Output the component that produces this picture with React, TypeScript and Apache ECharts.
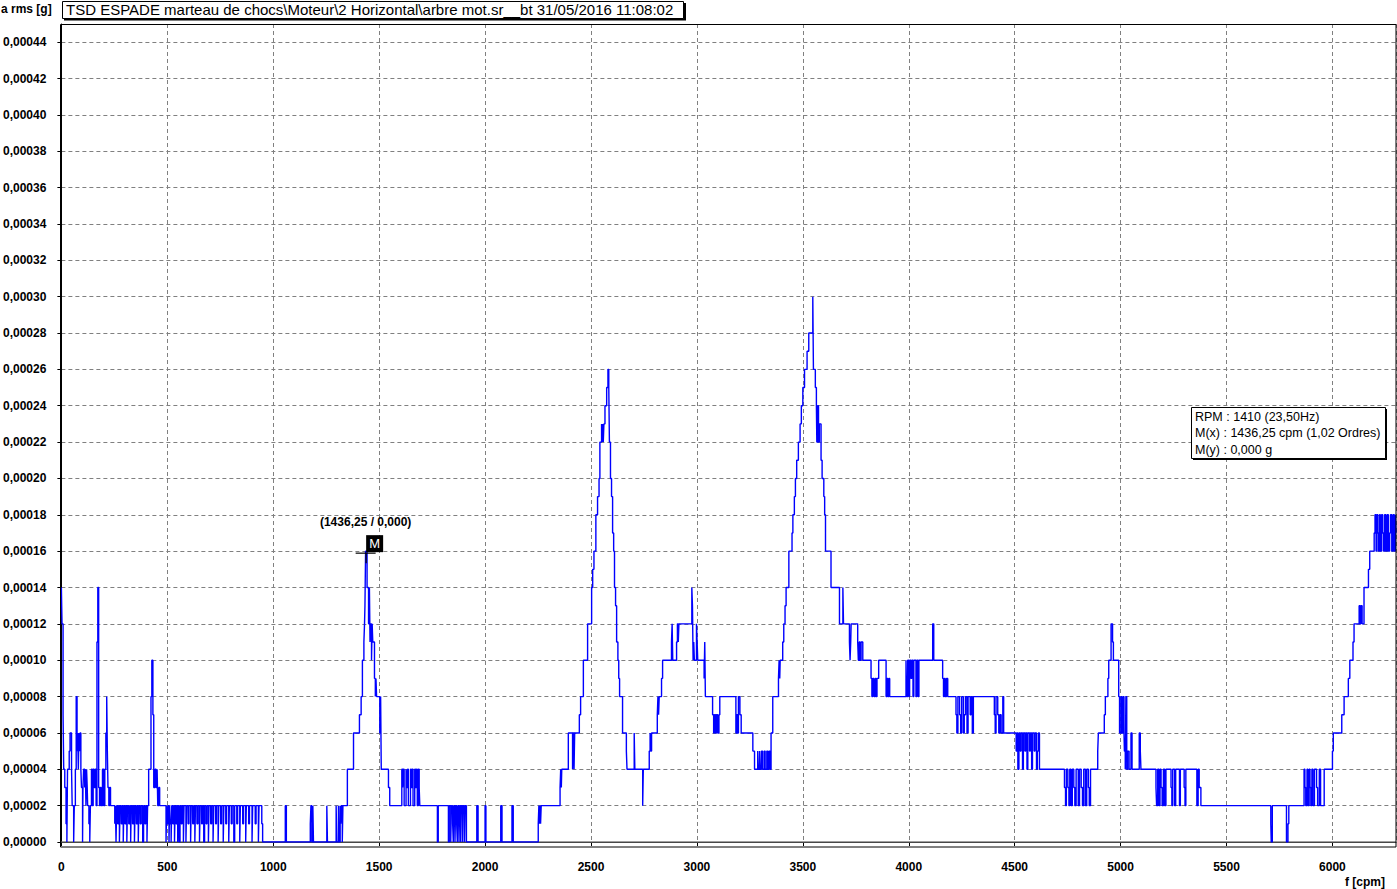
import React, { useEffect, useRef } from "react";
import * as echarts from "echarts";

const FONT = "'Liberation Sans', Arial, sans-serif";
const UNIT = 1e-5; // amplitudes in the segments are in units of 1e-5 g

const X_MIN = 0;
const X_MAX = 6300;
const X_STEP = 500;
const Y_MIN = 0;
const Y_MAX = 0.00045;
const Y_STEP = 0.00002;

const TITLE = "TSD ESPADE marteau de chocs\\Moteur\\2 Horizontal\\arbre mot.sr__bt 31/05/2016 11:08:02";
const Y_NAME = "a rms [g]";
const X_NAME = "f [cpm]";
const INFO_LINES = ["RPM : 1410 (23,50Hz)", "M(x) : 1436,25 cpm (1,02 Ordres)", "M(y) : 0,000 g"];
const MARKER = { f: 1436.25, a: 0.00016, label: "(1436,25 / 0,000)", tag: "M" };

// [frequency cpm, amplitude (1e-5 g)] change points, step line
const SEG_A = [
  [0, 14], [3, 12], [8, 7], [11, 4], [16, 3], [22, 1], [26, 0], [29, 4], [37, 5], [41, 6], [48, 4], [51, 2], [58, 0], [61, 2],
  [66, 4], [70, 8], [74, 5], [77, 6], [80, 4], [83, 6], [86, 5], [88, 6], [92, 4], [95, 3], [100, 0], [102, 3], [105, 4],
  [110, 3], [113, 4], [116, 2], [119, 4], [122, 3], [124, 2], [130, 1], [134, 0], [137, 2], [142, 4], [146, 2], [150, 4],
  [155, 3], [160, 4], [164, 2], [168, 11], [172, 14], [176, 3], [180, 2], [184, 3], [188, 2], [194, 4], [200, 2], [205, 4],
  [210, 6], [214, 8], [217, 5], [220, 3], [224, 2], [228, 3], [232, 2],
  [252, 1], [255, 2], [258, 0], [261, 2], [266, 1], [270, 2], [274, 0], [277, 2], [283, 1], [287, 2], [292, 0], [295, 2],
  [300, 1], [304, 2], [309, 0], [312, 2], [318, 1], [322, 2], [327, 0], [330, 2], [336, 1], [340, 2], [345, 0], [348, 2],
  [354, 1], [358, 2], [363, 0], [366, 2], [372, 1], [377, 2], [384, 0], [388, 2], [394, 1], [398, 2], [404, 0], [407, 2],
  [412, 4], [423, 8], [427, 10], [432, 7], [436, 3], [442, 4], [447, 3], [452, 4], [455, 2], [460, 3], [464, 2],
  [494, 0], [497, 2], [500, 1], [504, 2], [508, 0], [511, 2], [514, 1], [518, 0], [521, 2], [526, 1], [530, 2], [534, 0],
  [537, 2], [541, 1], [545, 2], [549, 0], [552, 2], [556, 0], [560, 2], [566, 1], [570, 2], [576, 0], [579, 2], [588, 0],
  [591, 2], [598, 1], [602, 2], [610, 0], [613, 2], [620, 1], [624, 2], [630, 0], [633, 2], [640, 1], [645, 2], [652, 0],
  [655, 2], [662, 1], [666, 2], [672, 0], [676, 2], [683, 1], [687, 2], [694, 0], [697, 2], [705, 1], [709, 2], [716, 0],
  [719, 2], [728, 1], [732, 2], [740, 0], [743, 2], [752, 1], [756, 2], [764, 0], [767, 2], [776, 1], [780, 2], [790, 0],
  [793, 2], [802, 1], [806, 2], [814, 0], [818, 2], [828, 1], [832, 2], [842, 0], [845, 2], [856, 1], [860, 2], [870, 0],
  [873, 2], [884, 1], [888, 2], [900, 0], [903, 2], [915, 1], [919, 2], [930, 0], [933, 2], [946, 1], [950, 0],
  [1057, 2], [1062, 0], [1175, 1], [1178, 2], [1182, 0], [1187, 2], [1190, 0], [1253, 2], [1256, 0],
];

const SEG_B = [
  [1297, 2], [1300, 0], [1308, 2], [1311, 0], [1316, 2], [1319, 1], [1322, 2], [1326, 0], [1329, 2], [1350, 4], [1379, 6],
  [1407, 7], [1415, 8], [1421, 10], [1428, 11], [1431, 12], [1433, 13], [1434, 14], [1436, 16], [1443, 14], [1450, 12],
  [1454, 14], [1457, 11], [1460, 12], [1464, 10], [1467, 12], [1470, 11], [1478, 9], [1482, 8], [1485, 9], [1488, 8],
  [1503, 6], [1507, 8], [1510, 4], [1544, 3], [1550, 2],
  [1607, 4], [1611, 3], [1614, 4], [1618, 2], [1627, 4], [1630, 3], [1634, 4], [1638, 2], [1648, 4], [1652, 3], [1656, 4],
  [1660, 2], [1668, 4], [1672, 3], [1676, 4], [1680, 2], [1685, 4], [1689, 3], [1692, 2],
  [1775, 0], [1779, 2], [1827, 0], [1831, 2], [1838, 0], [1841, 2], [1847, 1], [1850, 0], [1853, 2], [1858, 0], [1861, 2],
  [1866, 1], [1869, 0], [1872, 2], [1877, 0], [1880, 2], [1885, 0], [1888, 2], [1894, 0], [1897, 2], [1903, 0], [1906, 2],
  [1912, 0], [1961, 2], [1967, 0], [2000, 2], [2004, 0], [2074, 2], [2080, 0], [2127, 2], [2133, 0],
];

const SEG_C = [
  [2251, 1], [2254, 2], [2256, 1], [2259, 2], [2262, 1], [2265, 2], [2354, 3], [2357, 4], [2360, 3], [2362, 4], [2393, 6],
  [2413, 4], [2416, 6], [2420, 4], [2423, 6], [2445, 7], [2451, 8], [2464, 10], [2484, 12], [2503, 14], [2508, 15],
  [2514, 16], [2523, 18], [2531, 19], [2538, 20], [2542, 22], [2550, 23], [2553, 22], [2555, 23], [2558, 22], [2561, 23],
  [2566, 24], [2574, 25], [2580, 26], [2584, 25], [2587, 22], [2592, 20], [2597, 19], [2602, 17], [2607, 16], [2611, 14],
  [2616, 13], [2621, 11], [2627, 10], [2631, 9], [2635, 8], [2649, 6], [2667, 5], [2670, 4], [2704, 6], [2707, 4],
  [2744, 2], [2747, 4], [2775, 5], [2779, 6], [2782, 5], [2786, 6], [2813, 7], [2816, 8], [2819, 7], [2822, 8], [2833, 9],
  [2838, 10], [2880, 11], [2883, 12], [2886, 10], [2904, 11], [2908, 12], [2912, 11], [2915, 12], [2976, 14], [2979, 13],
  [2982, 10], [2985, 11], [2988, 10], [2998, 12], [3001, 11], [3004, 10], [3034, 9], [3037, 11], [3040, 8], [3074, 7],
  [3079, 6], [3083, 7], [3088, 6], [3092, 7], [3098, 6], [3104, 7], [3108, 8], [3184, 6], [3188, 7], [3192, 6], [3196, 8],
];

const SEG_D = [
  [3203, 7], [3209, 6], [3264, 5], [3272, 4], [3287, 5], [3290, 4], [3296, 5], [3299, 4], [3305, 5], [3310, 4], [3318, 5],
  [3322, 4], [3330, 5], [3334, 4], [3340, 5], [3345, 4], [3350, 6], [3358, 8], [3385, 9], [3388, 10], [3391, 9], [3393, 10],
  [3405, 11], [3410, 12], [3416, 13], [3421, 14], [3434, 16], [3449, 17], [3453, 18], [3460, 19], [3465, 20], [3471, 21],
  [3479, 22], [3487, 23], [3493, 24], [3500, 25], [3508, 26], [3520, 27], [3528, 28], [3547, 30], [3550, 26], [3559, 25],
  [3564, 24], [3566, 22], [3570, 24], [3574, 22], [3578, 23], [3586, 21], [3591, 20], [3599, 19], [3603, 18], [3607, 16],
  [3633, 14], [3673, 12], [3689, 14], [3692, 12], [3720, 11], [3723, 10], [3726, 11], [3728, 12], [3759, 11], [3762, 10],
  [3766, 11], [3770, 10], [3775, 11], [3783, 10], [3822, 9], [3826, 8], [3830, 9], [3836, 8], [3842, 9], [3846, 8],
  [3850, 9], [3858, 10], [3893, 8], [3897, 9], [3901, 8], [3906, 9], [3910, 8], [3987, 10], [3990, 8], [3995, 10],
  [4000, 8], [4004, 10], [4010, 9], [4014, 10], [4020, 8], [4024, 10], [4034, 8], [4038, 10], [4044, 8], [4048, 10],
  [4113, 12], [4118, 10], [4160, 9], [4164, 8], [4168, 9], [4172, 8], [4178, 9], [4184, 8], [4223, 7], [4227, 6], [4232, 8],
  [4240, 7], [4245, 6], [4250, 8], [4258, 6], [4262, 7], [4268, 8], [4275, 6], [4280, 8], [4290, 7], [4294, 8], [4300, 6],
  [4305, 8], [4404, 7], [4408, 6], [4412, 8], [4420, 7], [4425, 6], [4430, 7], [4436, 6], [4444, 8], [4448, 6],
];

const SEG_E = [
  [4507, 5], [4511, 6], [4515, 4], [4520, 6], [4526, 5], [4530, 6], [4537, 4], [4541, 6], [4548, 5], [4552, 6], [4558, 4],
  [4562, 6], [4570, 5], [4574, 6], [4580, 4], [4584, 6], [4592, 5], [4596, 6], [4603, 4], [4607, 5], [4612, 6], [4617, 4],
  [4735, 3], [4740, 2], [4744, 4], [4751, 3], [4756, 2], [4760, 4], [4766, 2], [4772, 4], [4779, 3], [4784, 2], [4790, 4],
  [4800, 2], [4806, 4], [4814, 3], [4820, 2], [4826, 4], [4834, 2], [4840, 4], [4848, 3], [4852, 2], [4858, 4],
  [4892, 5], [4895, 6], [4923, 7], [4928, 8], [4940, 9], [4944, 10], [4955, 12], [4962, 11], [4966, 10], [4991, 8],
  [4995, 6], [5002, 8], [5006, 6], [5012, 8], [5016, 6], [5018, 5], [5022, 4], [5025, 8], [5029, 4], [5033, 5], [5040, 4],
  [5049, 6], [5054, 4], [5088, 6], [5093, 5], [5096, 4],
  [5167, 3], [5170, 2], [5175, 4], [5181, 2], [5186, 4], [5191, 3], [5196, 2], [5202, 4], [5208, 2], [5214, 4], [5238, 3],
  [5242, 2], [5246, 4], [5255, 2], [5260, 4], [5278, 2], [5282, 4], [5300, 3], [5304, 2], [5308, 4], [5360, 2], [5366, 4],
  [5371, 3], [5379, 2],
  [5709, 1], [5711, 0], [5716, 2], [5783, 0], [5790, 1], [5794, 2],
  [5866, 4], [5870, 3], [5874, 2], [5880, 4], [5884, 2], [5890, 4], [5894, 3], [5898, 2], [5903, 4], [5908, 2], [5915, 4],
  [5925, 3], [5930, 2], [5938, 4], [5944, 2], [5961, 4],
  [6000, 5], [6004, 6], [6044, 7], [6055, 8], [6075, 9], [6082, 10], [6097, 11], [6102, 12], [6126, 13], [6130, 12],
  [6134, 13], [6140, 12], [6149, 14], [6170, 15], [6176, 16], [6197, 17], [6201, 18], [6206, 16], [6210, 18], [6214, 17],
  [6218, 16], [6222, 18], [6226, 16], [6232, 18], [6237, 17], [6241, 16], [6246, 18], [6252, 16], [6258, 18], [6264, 16],
  [6270, 17], [6274, 18], [6280, 16], [6286, 18], [6292, 16], [6297, 18], [6300, 17],
];

export default function App() {
  const ref = useRef<HTMLDivElement>(null);

  useEffect(() => {
    const el = ref.current;
    if (!el) return;
    const chart = echarts.init(el, null, { renderer: "svg" });
    const data = [...SEG_A, ...SEG_B, ...SEG_C, ...SEG_D, ...SEG_E].map(([f, a]) => [f, a * UNIT]);
    const axisFont = { fontFamily: FONT, fontWeight: "bold" as const, fontSize: 12, color: "#000" };
    const gridLine = { show: true, lineStyle: { color: "#808080", type: [4, 3], width: 1 } };

    chart.setOption({
      animation: false,
      backgroundColor: "#ffffff",
      grid: { left: 61, right: 1, top: 24, bottom: 47 },
      xAxis: {
        type: "value",
        min: X_MIN,
        max: X_MAX,
        interval: X_STEP,
        offset: 12,
        axisLine: { show: true, lineStyle: { color: "#000", width: 1 } },
        axisTick: { show: true, length: 4, lineStyle: { color: "#000" } },
        axisLabel: { ...axisFont, margin: 7, showMaxLabel: false, formatter: (v: number) => String(v) },
        splitLine: gridLine,
      },
      yAxis: {
        type: "value",
        min: Y_MIN,
        max: Y_MAX,
        interval: Y_STEP,
        offset: 9,
        axisLine: { show: true, lineStyle: { color: "#000", width: 1 } },
        axisTick: { show: true, length: 4, lineStyle: { color: "#000" } },
        axisLabel: {
          ...axisFont,
          margin: 6,
          showMaxLabel: false,
          formatter: (v: number) => v.toFixed(5).replace(".", ","),
        },
        splitLine: gridLine,
      },
      series: [
        {
          type: "line",
          data: [[X_MIN, 0], [X_MAX, 0]],
          showSymbol: false,
          silent: true,
          lineStyle: { color: "#808080", width: 1.5 },
        },
        {
          type: "line",
          data,
          step: "end",
          showSymbol: false,
          silent: true,
          lineStyle: { color: "#0000ff", width: 1.4 },
        },
      ],
    });

    const [mx, my] = chart.convertToPixel({ gridIndex: 0 }, [MARKER.f, MARKER.a]) as number[];
    const infoX = 1191;
    const infoY = 407;
    const infoW = 194;
    const infoH = 51;

    chart.setOption({
      graphic: [
        {
          type: "rect",
          silent: true,
          z: 50,
          shape: { x: 60.5, y: 24.5, width: 1335.5, height: 822.5 },
          style: { fill: "none", stroke: "#000", lineWidth: 1 },
        },
        { type: "text", silent: true, left: 1, top: 3, style: { text: Y_NAME, font: `bold 12px ${FONT}`, fill: "#000" } },
        {
          type: "text",
          silent: true,
          x: 1385,
          y: 882,
          style: { text: X_NAME, font: `bold 12px ${FONT}`, fill: "#000", align: "right", verticalAlign: "middle" },
        },
        // title box
        { type: "rect", silent: true, z: 60, shape: { x: 64, y: 3, width: 622, height: 17.5 }, style: { fill: "#000" } },
        {
          type: "rect",
          silent: true,
          z: 61,
          shape: { x: 62.5, y: 1.5, width: 621, height: 17 },
          style: { fill: "#fff", stroke: "#000", lineWidth: 1 },
        },
        {
          type: "text",
          silent: true,
          z: 62,
          x: 66,
          y: 9.5,
          style: { text: TITLE, font: `15px ${FONT}`, fill: "#000", verticalAlign: "middle" },
        },
        // info box
        {
          type: "rect",
          silent: true,
          z: 60,
          shape: { x: infoX + 2, y: infoY + 2, width: infoW, height: infoH },
          style: { fill: "#000" },
        },
        {
          type: "rect",
          silent: true,
          z: 61,
          shape: { x: infoX + 0.5, y: infoY + 0.5, width: infoW, height: infoH },
          style: { fill: "#fff", stroke: "#000", lineWidth: 1 },
        },
        ...INFO_LINES.map((t, i) => ({
          type: "text",
          silent: true,
          z: 62,
          x: infoX + 4,
          y: infoY + 9.5 + i * 16.5,
          style: { text: t, font: `12.5px ${FONT}`, fill: "#000", verticalAlign: "middle" },
        })),
        // marker
        {
          type: "text",
          silent: true,
          z: 62,
          x: mx,
          y: my - 29,
          style: { text: MARKER.label, font: `bold 12px ${FONT}`, fill: "#000", align: "center", verticalAlign: "middle" },
        },
        {
          type: "rect",
          silent: true,
          z: 62,
          shape: { x: mx + 0.5, y: my - 16, width: 17, height: 17 },
          style: { fill: "#000" },
        },
        {
          type: "text",
          silent: true,
          z: 63,
          x: mx + 9,
          y: my - 7.5,
          style: { text: MARKER.tag, font: `13px ${FONT}`, fill: "#ffffff", align: "center", verticalAlign: "middle" },
        },
        {
          type: "line",
          silent: true,
          z: 62,
          shape: { x1: mx - 10, y1: my + 2, x2: mx + 10, y2: my + 2 },
          style: { stroke: "#000", lineWidth: 1.2 },
        },
        {
          type: "line",
          silent: true,
          z: 62,
          shape: { x1: mx + 0.5, y1: my + 2, x2: mx + 0.5, y2: my + 12 },
          style: { stroke: "#000", lineWidth: 1.2 },
        },
      ],
    });

    return () => chart.dispose();
  }, []);

  return (
    <div
      ref={ref}
      style={{ position: "fixed", left: 0, top: 0, width: 1397, height: 889, background: "#fff" }}
    />
  );
}
